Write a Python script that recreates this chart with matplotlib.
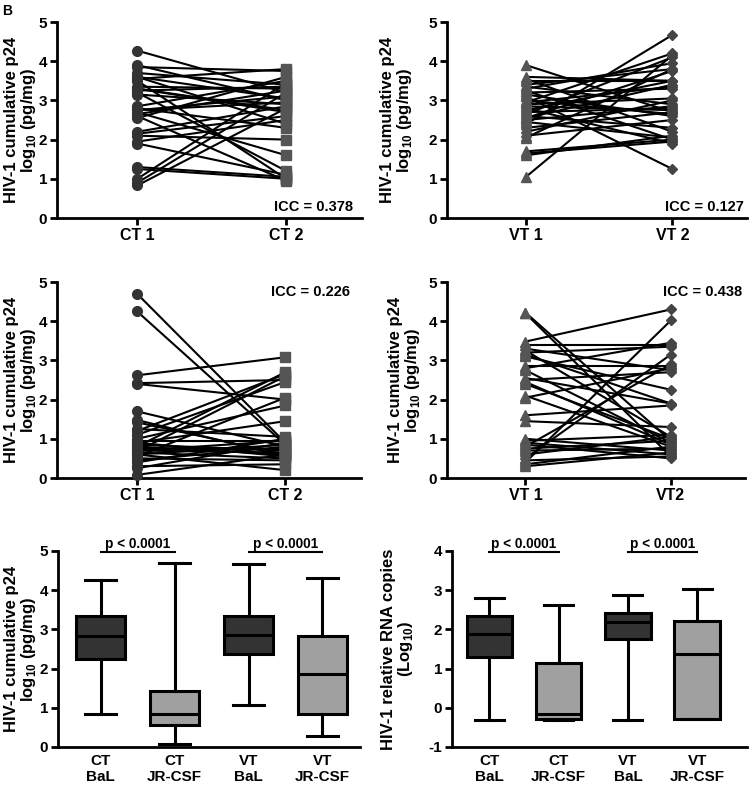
import numpy as np
import matplotlib
matplotlib.use("Agg")
import matplotlib.pyplot as plt

plt.rcParams['font.family'] = ['Liberation Sans', 'DejaVu Sans']
plt.rcParams['font.weight'] = 'bold'
plt.rcParams['mathtext.fontset'] = 'custom'
plt.rcParams['mathtext.rm'] = 'Liberation Sans:bold'
plt.rcParams['mathtext.bf'] = 'Liberation Sans:bold'
plt.rcParams['axes.unicode_minus'] = False

# ---- paired data (time point 1, time point 2) ----
ct_bal_1 = [4.27, 3.90, 3.85, 3.70, 3.60, 3.55, 3.50, 3.35, 3.30, 3.25, 3.20, 3.15, 2.85, 2.80, 2.75, 2.70,
            2.65, 2.60, 2.55, 2.15, 2.10, 1.95, 1.90, 1.30, 1.25, 1.00, 0.90, 0.83, 2.75, 3.30, 3.60, 2.20]
ct_bal_2 = [3.20, 3.00, 3.75, 3.40, 2.40, 3.80, 1.00, 3.30, 2.75, 3.35, 1.20, 2.90, 3.50, 2.30, 3.10, 1.60,
            3.25, 0.95, 3.60, 2.60, 2.00, 2.50, 1.10, 1.05, 1.00, 3.45, 3.20, 2.80, 2.95, 2.70, 3.05, 2.85]

vt_bal_1 = [3.90, 3.60, 3.55, 3.50, 3.40, 3.35, 3.30, 3.25, 3.20, 3.10, 3.00, 2.95, 2.90, 2.85, 2.80, 2.75,
            2.70, 2.65, 2.60, 2.55, 2.50, 2.45, 2.40, 2.30, 2.20, 2.10, 2.05, 1.70, 1.65, 1.60, 1.05, 2.95,
            3.15, 2.55]
vt_bal_2 = [2.70, 3.50, 2.20, 3.50, 3.80, 2.90, 3.95, 2.00, 3.30, 1.25, 2.65, 4.20, 3.05, 2.75, 1.90, 3.50,
            2.80, 4.10, 2.30, 3.40, 2.85, 2.05, 4.67, 2.70, 3.00, 2.50, 3.80, 2.00, 1.95, 2.10, 4.15, 3.35,
            2.60, 3.75]

ct_jr_1 = [4.70, 4.25, 2.62, 2.42, 2.40, 1.70, 1.48, 1.42, 1.20, 1.10, 1.00, 0.95, 0.90, 0.85, 0.80, 0.75,
           0.70, 0.68, 0.65, 0.60, 0.55, 0.50, 0.40, 0.30, 0.25, 0.08, 0.60, 0.70, 1.25, 0.90, 0.45, 0.80]
ct_jr_2 = [0.90, 0.85, 3.08, 2.50, 2.00, 0.80, 0.55, 0.60, 2.65, 2.45, 1.85, 0.95, 1.45, 0.70, 2.70, 0.75,
           0.65, 2.60, 0.50, 0.85, 2.05, 0.45, 1.00, 0.35, 0.90, 0.60, 0.20, 0.95, 1.05, 0.55, 0.80, 0.60]

vt_jr_1 = [4.22, 4.20, 3.48, 3.40, 3.30, 3.25, 3.20, 3.10, 2.85, 2.80, 2.75, 2.55, 2.50, 2.45, 2.40, 2.10,
           2.05, 1.60, 1.45, 1.00, 0.95, 0.90, 0.85, 0.80, 0.75, 0.70, 0.60, 0.50, 0.45, 0.40, 0.35, 0.30,
           3.15]
vt_jr_2 = [0.95, 0.55, 4.30, 3.40, 2.75, 1.05, 3.35, 2.25, 2.85, 3.45, 0.90, 1.90, 2.70, 0.85, 1.00, 0.80,
           2.80, 1.85, 1.30, 0.70, 1.10, 0.60, 0.50, 2.90, 0.95, 0.75, 1.05, 3.15, 0.55, 4.02, 0.80, 0.65,
           1.90]

# ---- box plot summaries: min, q1, median, q3, max ----
box_labels = ['CT\nBaL', 'CT\nJR-CSF', 'VT\nBaL', 'VT\nJR-CSF']
p24_stats = [[0.83, 2.25, 2.82, 3.35, 4.27],
             [0.08, 0.57, 0.85, 1.43, 4.70],
             [1.07, 2.38, 2.85, 3.35, 4.67],
             [0.28, 0.85, 1.87, 2.82, 4.30]]
rna_stats = [[-0.30, 1.30, 1.87, 2.33, 2.80],
             [-0.30, -0.28, -0.15, 1.15, 2.63],
             [-0.30, 1.75, 2.18, 2.42, 2.88],
             [-0.28, -0.28, 1.38, 2.22, 3.03]]
box_colors = ['#333333', '#a0a0a0', '#333333', '#a0a0a0']

p24_label = 'HIV-1 cumulative p24\nlog$_{10}$ (pg/mg)'
rna_label = 'HIV-1 relative RNA copies\n(Log$_{10}$)'

fig = plt.figure(figsize=(7.5, 7.88), dpi=100)
W, H = 750.0, 788.0


def make_ax(left, right, top_px, bot_px):
    return fig.add_axes([left / W, 1 - bot_px / H, (right - left) / W, (bot_px - top_px) / H])


def style(ax, label, label_px, xsize=11.5):
    for s in ['top', 'right']:
        ax.spines[s].set_visible(False)
    for s in ['left', 'bottom']:
        ax.spines[s].set_linewidth(2)
    ax.tick_params(axis='both', width=2, length=5, pad=2)
    ax.tick_params(axis='y', labelsize=11)
    ax.tick_params(axis='x', labelsize=xsize)
    for lab in ax.get_xticklabels() + ax.get_yticklabels():
        lab.set_fontweight('bold')
    ax.set_ylabel(label, fontsize=12, fontweight='bold', linespacing=1.05)
    ax.yaxis.label.set_va('center')
    # label centre offset in pixels from the y axis
    ax.yaxis.set_label_coords(label_px / (ax.get_position().width * W), 0.5)


def paired(ax, y1, y2, m1, c1, m2, c2, ticks, icc, icc_xy, icc_va, label_px):
    for a, b in zip(y1, y2):
        ax.plot([0, 1], [a, b], color='black', lw=1.5, zorder=2)
    ax.plot(np.zeros(len(y1)), y1, ls='none', marker=m1, ms=7,
            color=c1, zorder=3, clip_on=False)
    ax.plot(np.ones(len(y2)), y2, ls='none', marker=m2, ms=6.5 if m2 != 'D' else 5,
            color=c2, zorder=3, clip_on=False)
    ax.set_xlim(-0.54, 1.51)
    ax.set_ylim(0, 5)
    ax.set_yticks(range(6))
    ax.set_xticks([0, 1])
    ax.set_xticklabels(ticks)
    ax.text(icc_xy[0], icc_xy[1], icc, transform=ax.transAxes, ha='right', va=icc_va,
            fontsize=10.5, fontweight='bold')
    style(ax, p24_label, label_px)


ax1 = make_ax(57, 362, 22, 218)
paired(ax1, ct_bal_1, ct_bal_2, 'o', '#333333', 's', '#555555', ['CT 1', 'CT 2'],
       'ICC = 0.378', (0.97, 0.02), 'bottom', -36)
ax2 = make_ax(447, 747, 22, 218)
paired(ax2, vt_bal_1, vt_bal_2, '^', '#555555', 'D', '#444444', ['VT 1', 'VT 2'],
       'ICC = 0.127', (0.99, 0.02), 'bottom', -50)
ax3 = make_ax(57, 361, 282, 478)
paired(ax3, ct_jr_1, ct_jr_2, 'o', '#333333', 's', '#555555', ['CT 1', 'CT 2'],
       'ICC = 0.226', (0.965, 0.95), 'center', -36)
ax4 = make_ax(447, 745, 282, 478)
paired(ax4, vt_jr_1, vt_jr_2, '^', '#555555', 'D', '#444444', ['VT 1', 'VT2'],
       'ICC = 0.438', (0.99, 0.95), 'center', -42)


def boxes(ax, stats, xlim, ylim, yticks, ylabel, bar_y, label_px):
    bx = []
    for s in stats:
        bx.append({'whislo': s[0], 'q1': s[1], 'med': s[2], 'q3': s[3], 'whishi': s[4], 'fliers': []})
    art = ax.bxp(bx, positions=[1, 2, 3, 4], widths=0.66, capwidths=0.42, patch_artist=True,
                 showfliers=False,
                 boxprops=dict(linewidth=2.2, edgecolor='black'),
                 whiskerprops=dict(linewidth=2.2, color='black'),
                 capprops=dict(linewidth=2.2, color='black'),
                 medianprops=dict(linewidth=2.2, color='black'))
    for patch, c in zip(art['boxes'], box_colors):
        patch.set_facecolor(c)
    ax.set_xlim(*xlim)
    ax.set_ylim(*ylim)
    ax.set_yticks(yticks)
    ax.set_xticks([1, 2, 3, 4])
    ax.set_xticklabels(box_labels)
    for x0, x1 in [(1, 2), (3, 4)]:
        ax.plot([x0, x1], [bar_y, bar_y], color='black', lw=1.5, clip_on=False)
        ax.text((x0 + x1) / 2, bar_y + 0.04, 'p < 0.0001', ha='center', va='bottom',
                fontsize=9.8, fontweight='bold', clip_on=False)
    style(ax, ylabel, label_px, xsize=11)
    ax.tick_params(axis='x', length=0, pad=5)


ax5 = make_ax(58, 360, 551, 747)
boxes(ax5, p24_stats, (0.42, 4.51), (0, 5), range(6), p24_label, 4.97, -37)
ax6 = make_ax(452, 747, 551, 747)
boxes(ax6, rna_stats, (0.46, 4.72), (-1, 4), range(-1, 5), rna_label, 3.97, -54)

fig.text(0.003, 0.995, 'B', ha='left', va='top', fontsize=10, fontweight='bold')

plt.savefig('out.png', dpi=100)
